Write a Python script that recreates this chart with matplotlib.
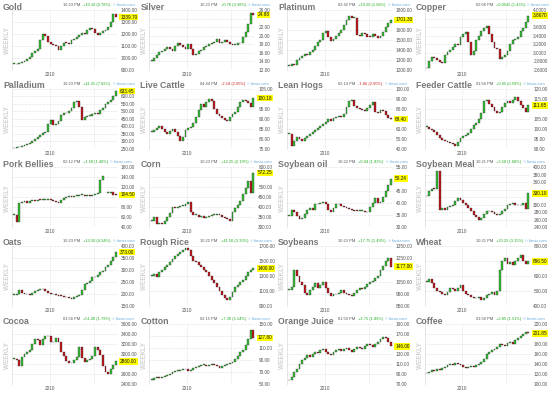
import numpy as np
import matplotlib
matplotlib.use("Agg")
import matplotlib.pyplot as plt

plt.rcParams['font.family'] = ['Liberation Sans', 'DejaVu Sans']

titles = ["Gold", "Silver", "Platinum", "Copper",
          "Palladium", "Live Cattle", "Lean Hogs", "Feeder Cattle",
          "Pork Bellies", "Corn", "Soybean oil", "Soybean Meal",
          "Oats", "Rough Rice", "Soybeans", "Wheat",
          "Cocoa", "Cotton", "Orange Juice", "Coffee"]

gold = [950, 948, 958, 965, 975, 995, 1012, 1040, 1055, 1075, 1146, 1200, 1180, 1130, 1118, 1110, 1100, 1070, 1100, 1128,
        1125, 1118, 1150, 1160, 1175, 1195, 1212, 1200, 1230, 1250, 1240, 1210, 1195, 1205, 1225, 1235, 1255, 1300, 1364, 1339.7]
silver = [14.1, 14.9, 15.5, 16.2, 16.5, 17.0, 17.3, 16.8, 16.4, 17.6, 18.3, 17.8, 17.3, 16.9, 18.0, 17.0, 15.6, 15.8, 16.4, 16.6,
          17.3, 17.6, 18.0, 18.2, 18.5, 19.3, 18.4, 18.5, 18.9, 18.5, 18.1, 17.8, 17.9, 18.2, 18.3, 19.6, 20.9, 22.7, 25.3, 24.88]
platinum = [1240, 1260, 1250, 1298, 1320, 1340, 1365, 1355, 1380, 1400, 1440, 1480, 1500, 1570, 1590, 1530, 1495, 1510, 1540, 1570,
            1600, 1650, 1705, 1738, 1725, 1725, 1550, 1545, 1575, 1565, 1535, 1530, 1560, 1545, 1525, 1545, 1585, 1630, 1675, 1701.3]
copper = [2.64, 2.82, 2.90, 2.87, 2.84, 2.79, 2.77, 2.95, 3.02, 3.06, 3.13, 3.20, 3.18, 3.38, 3.44, 3.48, 3.25, 2.94, 3.05, 3.30,
          3.40, 3.50, 3.59, 3.63, 3.45, 3.25, 3.12, 3.10, 2.85, 2.90, 2.94, 3.05, 3.21, 3.29, 3.32, 3.38, 3.50, 3.59, 3.73, 3.867]
palladium = [252, 258, 262, 270, 275, 282, 290, 302, 312, 325, 340, 352, 362, 415, 438, 405, 415, 432, 475, 488,
             485, 500, 522, 558, 565, 525, 440, 460, 468, 470, 480, 488, 480, 505, 520, 545, 560, 575, 600, 633.45]
live_cattle = [83.5, 84.5, 85.5, 86.2, 85.0, 83.3, 82.5, 84.0, 85.0, 83.5, 81.5, 79.0, 81.0, 84.5, 85.5, 86.0, 88.0, 91.0, 94.5, 97.5,
               96.0, 98.5, 100.0, 99.0, 95.0, 92.5, 91.5, 90.5, 89.5, 89.0, 91.0, 92.5, 93.5, 96.0, 98.5, 99.5, 99.0, 98.0, 96.0, 100.18]
lean_hogs = [55, 43, 48, 52, 50, 48, 51, 53, 55, 57, 59, 61, 63, 65, 67, 70, 68, 71, 72, 73,
             72, 75, 82, 88, 89, 83, 81, 80, 79, 78, 81, 84, 87, 77, 76, 79, 78, 74, 71, 69.4]
feeder_cattle = [101, 100, 99.5, 98.5, 97, 95.5, 94.5, 94, 93.5, 93, 92.5, 91.5, 93.5, 95.5, 96.5, 97, 98, 100, 102, 103,
                 104.7, 108, 114, 114.5, 112.5, 111, 109, 108, 108.5, 111, 113, 114, 113, 114.5, 116, 114, 112, 110.5, 108.5, 111.65]
pork_bellies = [65, 50, 88, 90, 92, 89, 92, 95, 93, 95, 94, 95, 95, 97, 95, 93, 91, 89, 95, 98,
                101, 102, 100, 102, 103, 104, 105, 103, 105, 103, 105, 106, 108, 135, 143, np.nan, 108, 110, 105, 104.5]
corn = [333, 350, 317, 322, 318, 330, 350, 370, 400, 395, 400, 405, 408, 415, 425, 375, 360, 362, 352, 355,
        345, 350, 355, 360, 362, 367, 360, 352, 348, 342, 333, 375, 395, 410, 430, 465, 495, 530, 470, 572.25]
soybean_oil = [34.7, 37.2, 36.2, 34.5, 33.6, 33.8, 35.4, 37.0, 38.2, 37.2, 39.5, 39.6, 40.0, 40.3, 39.6, 37.0, 36.2, 38.0, 39.5, 39.6,
               39.0, 38.5, 38.0, 37.4, 37.2, 36.8, 36.7, 36.7, 36.8, 36.2, 36.5, 38.4, 40.2, 42.3, 40.0, 40.5, 42.5, 45.0, 47.5, 50.24]
soybean_meal = [322, 336, 343, 342, 390, 285, 290, 285, 295, 296, 300, 310, 318, 313, 305, 298, 290, 282, 272, 266,
                259, 265, 275, 284, 282, 280, 276, 273, 275, 282, 288, 298, 303, 304, 300, 298, 300, 305, 288, 330.1]
oats = [195, 200, 215, 205, 198, 200, 195, 205, 210, 215, 220, 218, 212, 205, 200, 198, 195, 192, 190, 188,
        185, 182, 180, 185, 190, 195, 215, 240, 245, 255, 270, 268, 280, 290, 295, 310, 320, 335, 355, 373]
rough_rice = [1300, 1320, 1290, 1350, 1380, 1420, 1450, 1480, 1520, 1560, 1590, 1620, 1650, 1670, 1640, 1560, 1500, 1480, 1450, 1420,
              1380, 1350, 1300, 1250, 1200, 1150, 1100, 1050, 1000, 980, 1020, 1080, 1150, 1180, 1220, 1250, 1300, 1350, 1380, 1400]
soybeans = [980, 1010, 1150, 1100, 1050, 1020, 960, 940, 980, 1010, 1040, 1000, 1020, 1050, 1000, 960, 930, 945, 950, 960,
            980, 960, 950, 940, 935, 960, 980, 1000, 990, 1010, 1030, 1050, 1060, 1080, 1100, 1150, 1180, 1220, 1250, 1177]
wheat = [560, 580, 550, 520, 500, 490, 480, 475, 490, 520, 510, 500, 520, 540, 500, 480, 470, 460, 455, 450,
         460, 440, 450, 470, 480, 490, 470, 500, 640, 700, 720, 680, 690, 670, 700, 720, 740, 700, 680, 696.5]
cocoa = [2908, 2880, 2770, 2940, 3000, 3040, 3090, 3200, 3310, 3280, 3180, 3300, 3360, 3360, 3240, 3250, 3330, 3250, 3050, 2970,
         2875, 2820, 2830, 2880, 2950, 3140, 2930, 2850, 2880, 2900, 2960, 3140, 3080, 2980, 2760, 2650, 2600, 2700, 2790, 2860]
cotton = [58, 60, 62, 61, 63, 64, 66, 68, 70, 72, 73, 74, 76, 75, 73, 74, 77, 79, 80, 82,
          83, 80, 82, 84, 83, 80, 78, 80, 82, 84, 86, 88, 92, 98, 104, 108, 115, 125, 140, 127.8]
orange_juice = [78, 85, 95, 100, 110, 118, 122, 128, 125, 130, 135, 132, 138, 140, 135, 130, 128, 135, 138, 140,
                136, 140, 142, 138, 135, 140, 145, 142, 140, 146, 150, 148, 145, 150, 155, 160, 165, 162, 155, 146]
coffee = [122, 125, 128, 126, 130, 128, 132, 135, 138, 140, 138, 142, 140, 138, 135, 132, 134, 136, 135, 138,
          140, 145, 150, 160, 165, 168, 170, 175, 180, 178, 176, 182, 185, 180, 188, 192, 196, 200, 205, 201.85]

series = [gold, silver, platinum, copper, palladium, live_cattle, lean_hogs, feeder_cattle,
          pork_bellies, corn, soybean_oil, soybean_meal, oats, rough_rice, soybeans, wheat,
          cocoa, cotton, orange_juice, coffee]

yticks = [
    [900, 1000, 1100, 1200, 1300, 1400],
    [12, 14, 16, 18, 20, 22, 24, 26],
    [1200, 1300, 1400, 1500, 1600, 1700, 1800],
    [2.6, 2.8, 3.0, 3.2, 3.4, 3.6, 3.8, 4.0],
    [250, 300, 350, 400, 450, 500, 550, 600, 650],
    [75, 80, 85, 90, 95, 100, 105],
    [40, 50, 60, 70, 80, 90, 100],
    [90, 95, 100, 105, 110, 115, 120],
    [40, 60, 80, 100, 120, 140, 160],
    [300, 350, 400, 450, 500, 550, 600],
    [30, 35, 40, 45, 50, 55],
    [240, 260, 280, 300, 320, 340, 360, 380, 400],
    [150, 200, 250, 300, 350, 400],
    [900, 1100, 1300, 1500, 1700],
    [850, 950, 1050, 1150, 1250, 1350],
    [400, 500, 600, 700, 800],
    [2400, 2600, 2800, 3000, 3200, 3400, 3600],
    [50, 70, 90, 110, 130, 150],
    [70, 90, 110, 130, 150, 170, 190],
    [100, 120, 140, 160, 180, 200, 220],
]
decimals = [2, 2, 2, 4, 2, 2, 2, 2, 2, 2, 2, 2, 2, 2, 2, 2, 2, 2, 2, 2]

times = ["10:23 PM", "10:23 PM", "02:42 PM", "02:06 PM", "10:23 PM", "04:44 PM", "02:14 PM", "01:58 PM",
         "02:12 PM", "10:23 PM", "10:22 PM", "10:21 PM", "10:23 PM", "10:22 PM", "10:23 PM", "10:21 PM",
         "01:56 PM", "02:15 PM", "01:59 PM", "01:58 PM"]
changes = ["+10.10 (0.78%)", "+0.76 (3.38%)", "+19.20 (1.08%)", "+0.0545 (1.43%)", "+41.55 (7.02%)",
           "-2.18 (2.05%)", "-1.86 (2.60%)", "+0.85 (0.59%)", "+1.50 (1.46%)", "+12.25 (2.19%)",
           "+0.94 (1.93%)", "+3.50 (1.08%)", "+13.50 (4.34%)", "+41.50 (3.33%)", "+17.75 (1.49%)",
           "+20.25 (3.15%)", "+51.00 (1.79%)", "+7.30 (5.14%)", "+2.75 (1.86%)", "+2.85 (1.51%)"]

W, H = 550, 393
fig = plt.figure(figsize=(5.5, 3.93), dpi=100)
fig.patch.set_facecolor('white')

col_w, row_h = 137.5, 78.6
green, red = '#33c233', '#c4161c'
grid_col = '#c8c8c8'

def fx(px):
    return px / W

def fy(py):
    return 1 - py / H

for k, (title, vals) in enumerate(zip(titles, series)):
    r, c = divmod(k, 4)
    x0, y0 = c * col_w, r * row_h
    ax = fig.add_axes([fx(x0 + 12), fy(y0 + 70), 106 / W, 60 / H])
    close = np.array(vals, dtype=float)
    prev = np.concatenate([[close[0]], close[:-1]])
    opn = np.where(np.isnan(prev), close, prev)
    x = np.arange(len(close))
    ticks = yticks[k]
    span = ticks[-1] - ticks[0]
    body_lo = np.minimum(opn, close)
    body_h = np.maximum(np.abs(close - opn), span * 0.012)
    cols = [green if cl >= op else red for op, cl in zip(opn, close)]
    ax.bar(x, body_h, bottom=body_lo, width=0.72, color=cols,
           edgecolor='#2a2a2a', linewidth=0.25, zorder=3)
    ax.set_xlim(-0.8, len(close) - 0.2)
    ax.set_ylim(ticks[0], ticks[-1])
    last = close[-1]
    fmt = "%." + str(decimals[k]) + "f"
    ax.set_yticks(ticks)
    # tick labels hidden behind the highlighted last-price box
    ax.set_yticklabels(["" if abs(t - last) < span * 0.075 else fmt % t for t in ticks])
    ax.yaxis.tick_right()
    ax.tick_params(axis='y', length=0, labelsize=3.4, labelcolor='#555555', pad=2)
    ax.set_xticks([13.7])
    ax.set_xticklabels(["2010"])
    ax.tick_params(axis='x', length=0, labelsize=3.4, labelcolor='#555555', pad=1.5)
    for v in [13.7, 30.6]:
        ax.axvline(v, color=grid_col, lw=0.4, ls=(0, (1, 1.5)), zorder=1)
    ax.grid(axis='y', color=grid_col, lw=0.4, ls=(0, (1, 1.5)), zorder=1)
    for s in ['top', 'right', 'bottom']:
        ax.spines[s].set_visible(False)
    ax.spines['left'].set_color(grid_col)
    ax.spines['left'].set_linewidth(0.4)
    ax.spines['left'].set_linestyle((0, (1, 1.5)))
    ax.text(1.02, last, fmt % last, transform=ax.get_yaxis_transform(),
            fontsize=3.4, color='#111111', va='center', ha='left', zorder=5,
            bbox=dict(boxstyle='square,pad=0.15', fc='#ffff00', ec='none'))
    fig.text(fx(x0 + 3), fy(y0 + 7), title, fontsize=6.3, fontweight='bold',
             color='#777777', ha='left', va='center')
    fig.text(fx(x0 + 7.5), fy(y0 + 41), "WEEKLY", fontsize=4.7, fontweight='bold',
             color='#d2d2d2', rotation=90, ha='center', va='center')
    t_time = fig.text(fx(x0 + 63), fy(y0 + 5), times[k], fontsize=2.9, color='#555555',
                      ha='left', va='center')
    chg_col = '#22aa22' if changes[k].startswith('+') else '#cc2222'
    t_chg = fig.text(0, 0, "", fontsize=2.9)
    t_chg = ax.annotate(changes[k], xy=(1, 0.5), xycoords=t_time, xytext=(2.0, 0),
                        textcoords='offset points', fontsize=2.9, color=chg_col,
                        ha='left', va='center', annotation_clip=False)
    ax.annotate("\u00a9 finviz.com", xy=(1, 0.5), xycoords=t_chg, xytext=(1.5, 0),
                textcoords='offset points', fontsize=2.9, color='#66aadd',
                ha='left', va='center', annotation_clip=False)

fig.savefig("out.png", dpi=100, facecolor='white')
